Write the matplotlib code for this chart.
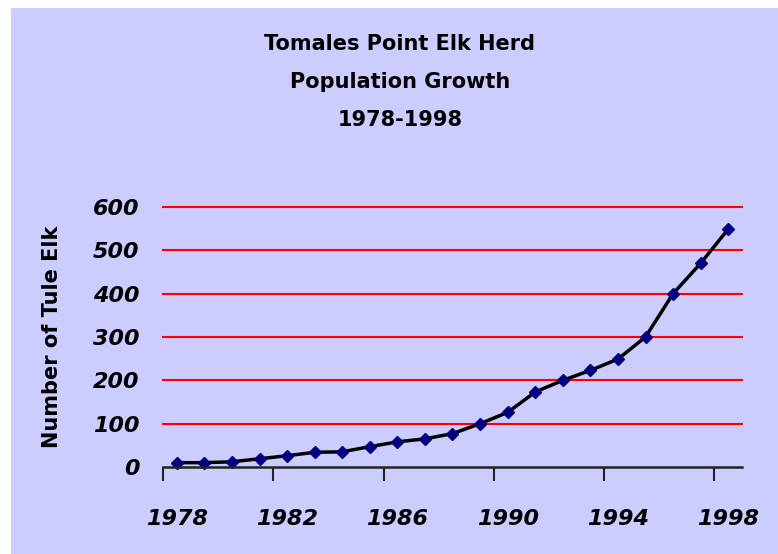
import matplotlib
matplotlib.use("Agg")
import matplotlib.pyplot as plt
from matplotlib.patches import Rectangle

# Tule elk counts, Tomales Point
years = list(range(1978, 1999))
elk_count = [10, 10, 12, 19, 26, 34, 35, 47, 58, 65, 77, 100,
             126, 173, 200, 223, 249, 300, 400, 470, 549]
year_labels = ["1978", "1982", "1986", "1990", "1994", "1998"]
y_ticks = [0, 100, 200, 300, 400, 500, 600]

bg = "#CCCCFF"

fig = plt.figure(figsize=(7.78, 5.54), dpi=100, facecolor="white")
# lavender panel (thin white margin on left and top)
fig.patches.append(Rectangle((11 / 778, 0), 1, 1 - 8 / 554, transform=fig.transFigure,
                             facecolor=bg, edgecolor="none", zorder=-1))

ax = fig.add_axes([163 / 778, 1 - 467 / 554, (742 - 163) / 778, (467 - 207) / 554])
ax.set_facecolor(bg)

# red gridlines above zero
for v in y_ticks[1:]:
    ax.axhline(v, color="red", linewidth=1.5, zorder=1, clip_on=False)

x = list(range(len(years)))
ax.plot(x, elk_count, color="black", linewidth=2.5, marker="D",
        markersize=6.5, markerfacecolor="#000080", markeredgecolor="#000080",
        zorder=3, clip_on=False)

ax.set_xlim(-0.5, len(years) - 0.5)
ax.set_ylim(0, 600)

# labels at category centres, tick marks at category boundaries
label_pos = [years.index(int(s)) for s in year_labels]
ax.set_xticks(label_pos)
ax.set_xticklabels(year_labels, fontsize=16, fontweight="bold", fontstyle="italic")
ax.set_xticks([p - 0.5 for p in label_pos], minor=True)
ax.tick_params(axis="x", which="major", length=0, pad=30)
ax.tick_params(axis="x", which="minor", length=10, width=1.5, direction="out", color="#222222")

ax.set_yticks(y_ticks)
ax.set_yticklabels([str(v) for v in y_ticks], fontsize=16, fontweight="bold", fontstyle="italic")
ax.tick_params(axis="y", length=0, pad=17)

for side in ["left", "right", "top"]:
    ax.spines[side].set_visible(False)
ax.spines["bottom"].set_linewidth(1.8)
ax.spines["bottom"].set_color("#222222")
ax.spines["bottom"].set_zorder(4)

ax.set_ylabel("Number of Tule Elk", fontsize=15, fontweight="bold", labelpad=22)

title_lines = ["Tomales Point Elk Herd", "Population Growth", "1978-1998"]
for i, line in enumerate(title_lines):
    fig.text(400 / 778, 1 - (44 + 38 * i) / 554, line, ha="center", va="center",
             fontsize=15, fontweight="bold")

fig.savefig("out.png", dpi=100, facecolor=fig.get_facecolor())
